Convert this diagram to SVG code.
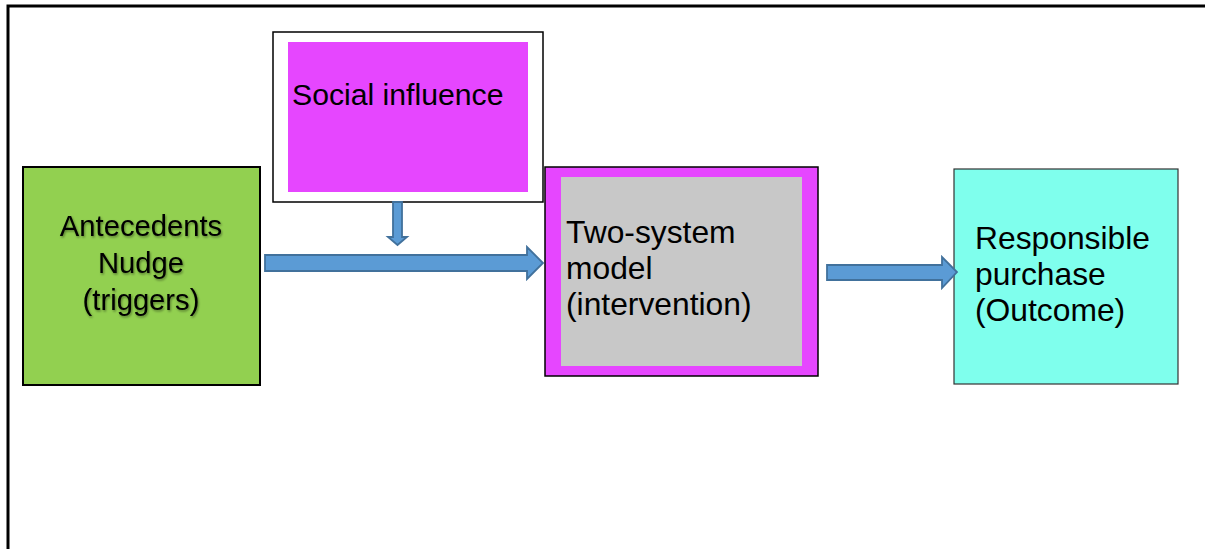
<svg xmlns="http://www.w3.org/2000/svg" width="1205" height="549" viewBox="0 0 1205 549">
<style>
.t{font-family:"Liberation Sans",Arial,sans-serif;fill:#000}
.arr{fill:#5b9bd5;stroke:#41719c;stroke-width:1.8;stroke-linejoin:miter}
</style>
<defs>
<filter id="sh" x="-10%" y="-20%" width="130%" height="150%">
<feDropShadow dx="1" dy="1.5" stdDeviation="1" flood-color="#000" flood-opacity="0.4"/>
</filter>
</defs>
<rect width="1205" height="549" fill="#fff"/>
<path d="M8,549 V6 H1205" fill="none" stroke="#000" stroke-width="3"/>
<g id="antecedents">
<rect x="23" y="167" width="237" height="218" fill="#92d050" stroke="#000" stroke-width="2"/>
<g class="t" font-size="29.2" text-anchor="middle" filter="url(#sh)">
<text x="141" y="236">Antecedents</text>
<text x="141" y="273">Nudge</text>
<text x="141" y="310">(triggers)</text>
</g>
</g>
<g id="social-influence">
<rect x="273" y="32" width="270" height="170" fill="#fff" stroke="#000" stroke-width="1.5"/>
<rect x="288" y="42" width="240" height="150" fill="#e646ff"/>
<text class="t" x="292" y="105" font-size="30.2">Social influence</text>
</g>
<g id="two-system">
<rect x="545" y="167" width="273" height="209" fill="#e646ff" stroke="#000" stroke-width="1.5"/>
<rect x="561" y="177" width="241" height="189" fill="#c8c8c8"/>
<g class="t" font-size="31.8">
<text x="566" y="243">Two-system</text>
<text x="566" y="279">model</text>
<text x="566" y="315">(intervention)</text>
</g>
</g>
<g id="outcome">
<rect x="954" y="169" width="224" height="215" fill="#7fffed" stroke="#333" stroke-width="1.2"/>
<g class="t" font-size="31.8">
<text x="975" y="249">Responsible</text>
<text x="975" y="285">purchase</text>
<text x="975" y="321">(Outcome)</text>
</g>
</g>
<g id="connectors">
<path class="arr" d="M393,202 H402 V237 H407 L397.5,245 L388,237 H393 Z"/>
<path class="arr" d="M265,255 H527 V247 L543,263 L527,279 V271 H265 Z"/>
<path class="arr" d="M827,265 H942 V257 L957,272 L942,288 V280 H827 Z"/>
</g>
</svg>
